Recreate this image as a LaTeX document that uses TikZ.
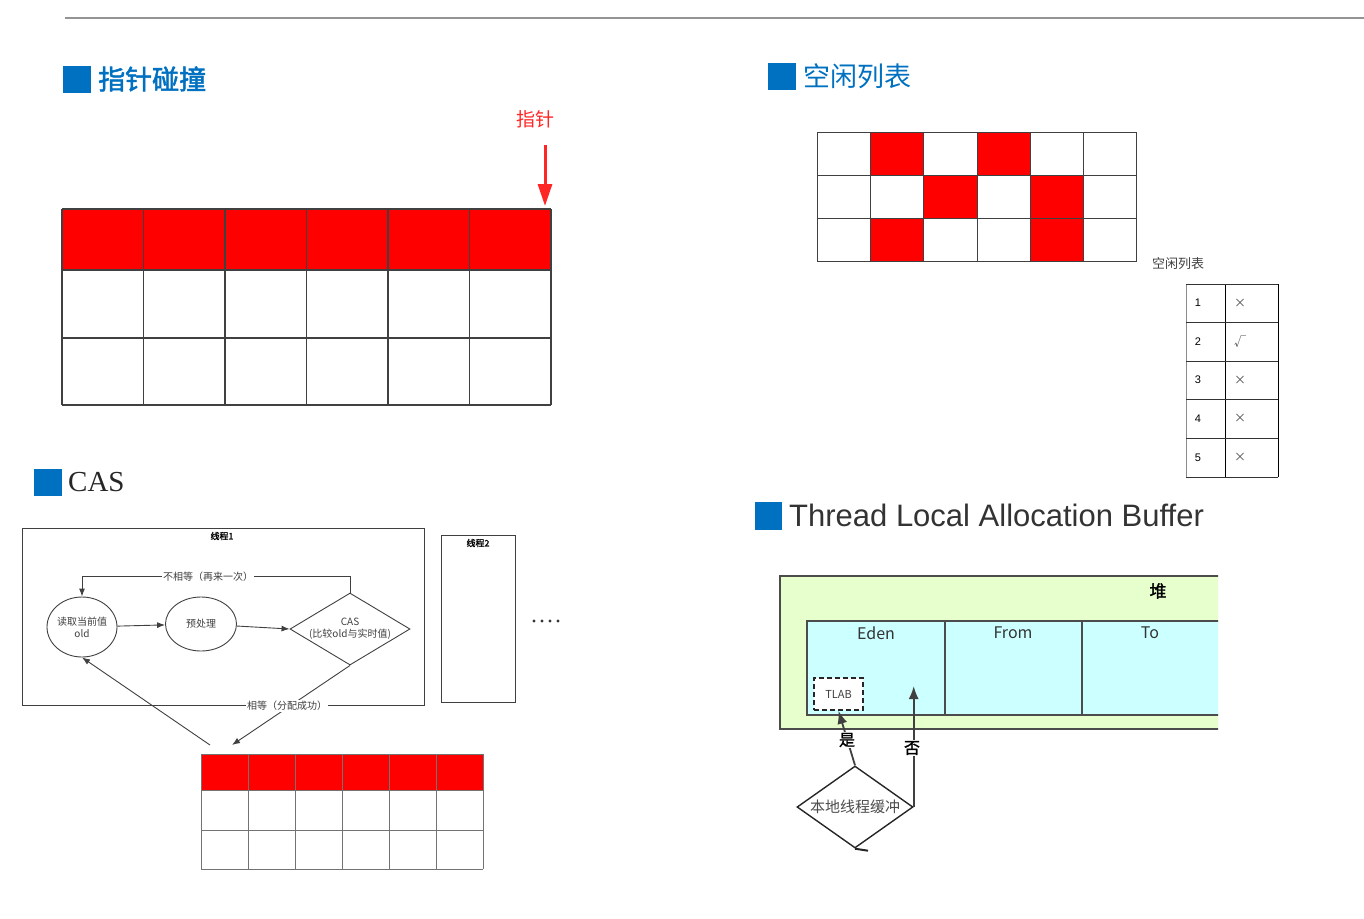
\documentclass[tikz,border=0pt]{standalone}
\usepackage{fontspec}
\setmainfont{Liberation Serif}
\newfontfamily\cjk{Noto Sans CJK SC}
\newfontfamily\cjkb[FakeBold=1.5]{Noto Sans CJK SC}
\newfontfamily\cjkt[FakeBold=2]{Noto Sans CJK SC}
\newfontfamily\sans{Liberation Sans}
\usetikzlibrary{shapes.geometric, arrows.meta}

\definecolor{titleblue}{RGB}{0,112,192}
\definecolor{heapgreen}{RGB}{230,255,204}
\definecolor{edenblue}{RGB}{204,255,255}
\definecolor{linegray}{RGB}{64,64,64}

\tikzset{
  cellline/.style={draw=linegray, line width=1.3},
  title/.style={font=\cjkt\fontsize{27}{30}\selectfont, text=titleblue, anchor=west, inner sep=0},
  flowtext/.style={font=\cjk\fontsize{10}{12}\selectfont, text=black!75, align=center, inner sep=1},
  flow/.style={-{Latex[length=8,width=6]}, line width=0.9, draw=black!75},
  heapline/.style={draw=black!70, line width=1.6},
  bigarrow/.style={-{Latex[length=13,width=10]}, line width=1.8, draw=black!75},
}

\begin{document}
\begin{tikzpicture}[x=1pt, y=-1pt]
    \useasboundingbox (0,0) rectangle (1364,918);

    % Top rule
    \draw[black!42, line width=2] (65,18) -- (1364,18);

    % Section titles
    \fill[titleblue] (63,66) rectangle (91,93);
    \node[title] (bumptitle) at (98,79) {指针碰撞};
    \fill[titleblue] (768,63) rectangle (796,90);
    \node[title, font=\cjk\fontsize{27}{30}\selectfont] (freetitle) at (803,76) {空闲列表};
    \fill[titleblue] (34,469) rectangle (62,496);
    \node[anchor=west, inner sep=0, font=\fontsize{29}{32}\selectfont, text=black!85] (castitle) at (68,482) {CAS};
    \fill[titleblue] (755,502) rectangle (782,530);
    \node[anchor=west, inner sep=0, font=\sans\fontsize{31}{34}\selectfont, text=black!80] (tlabtitle) at (789,515) {Thread Local Allocation Buffer};

    % Pointer bump grid
    \foreach \c in {0,...,5}
      \fill[red] (62+\c*81.5,209) rectangle ++(81.5,61);
    \foreach \c in {0,...,6}
      \draw[cellline] (62+\c*81.5,209) -- (62+\c*81.5,405);
    \foreach \y in {209,270,338,405}
      \draw[cellline] (62,\y) -- (551,\y);

    % Pointer arrow
    \node[font=\cjk\fontsize{19}{21}\selectfont, text=red!85] (ptr) at (535,119) {指针};
    \coordinate (ptrtop) at (545,145);
    \coordinate (ptrend) at (545,206);
    \draw[-{Triangle[length=22,width=14]}, red!85, line width=3] (ptrtop) -- (ptrend);

    % Free list grid
    \foreach \c/\r in {1/0,3/0,2/1,4/1,1/2,4/2}
      \fill[red] (817+\c*53.33,132+\r*43.33) rectangle ++(53.33,43.33);
    \foreach \c in {0,...,6}
      \draw[cellline, line width=1] (817+\c*53.33,132) -- (817+\c*53.33,262);
    \foreach \r in {0,...,3}
      \draw[cellline, line width=1] (817,132+\r*43.33) -- (1137,132+\r*43.33);

    % Free list table
    \node[font=\cjk\fontsize{13}{15}\selectfont, text=black!75] (freelabel) at (1178,264) {空闲列表};
    \foreach \r/\v in {0/×,1/√,2/×,3/×,4/×} {
      \node[font=\sans\fontsize{11}{12}\selectfont] at (1198,303+\r*38.6) {\the\numexpr\r+1\relax};
      \node[font=\cjk\fontsize{12}{13}\selectfont, text=black!70] at (1240,303+\r*38.6) {\v};
    }
    \draw[black!45, line width=1] (1186,284) -- (1186,477);
    \foreach \x in {1225,1278}
      \draw[black, line width=1] (\x,284) -- (\x,477);
    \foreach \r in {0,...,5}
      \draw[black!80, line width=1] (1186,284+\r*38.6) -- (1278,284+\r*38.6);

    % CAS threads
    \draw[black!75, line width=1] (22,528) rectangle (424,705);
    \node[font=\cjkb\fontsize{9}{11}\selectfont] (t1) at (222,536) {线程1};
    \draw[black!75, line width=1] (441,535) rectangle (515,702);
    \node[font=\cjkb\fontsize{9}{11}\selectfont] (t2) at (478,543) {线程2};
    \foreach \x in {534,542,550,558}
      \fill[black!80] (\x,621) circle[radius=1.6];

    % CAS flow
    \node[ellipse, draw=black!75, line width=0.9, minimum width=70, minimum height=60] (read) at (82,627) {};
    \node[flowtext] at (read) {读取当前值\\old};
    \node[ellipse, draw=black!75, line width=0.9, minimum width=71, minimum height=54] (prep) at (201,624) {};
    \node[flowtext] at (prep) {预处理};
    \node[diamond, draw=black!75, line width=0.9, minimum width=120, minimum height=72, inner sep=0] (cas) at (350,629) {};
    \node[flowtext] at (cas) {CAS\\(比较old与实时值)};

    \draw[flow] (read) -- (prep);
    \draw[flow] (prep) -- (cas.west);
    \draw[flow] (cas.north) -- ++(0,-16) -| (read.north);
    \node[flowtext, fill=white] (neq) at (208,577) {不相等（再来一次）};

    \coordinate (memin) at (232,745);
    \coordinate (memout) at (210,745);
    \draw[flow] (cas.south) -- (memin);
    \draw[flow] (memout) -- (read.south);
    \node[flowtext, fill=white] (eq) at (287,706) {相等（分配成功）};

    % CAS memory grid
    \foreach \c in {0,...,5}
      \fill[red] (201+\c*47,754) rectangle ++(47,36);
    \foreach \c in {0,...,6}
      \draw[black!55, line width=1] (201+\c*47,754) -- (201+\c*47,869);
    \foreach \y in {754,790,830,869}
      \draw[black!55, line width=1] (201,\y) -- (483,\y);

    % TLAB heap
    \begin{scope}
      \clip (770,560) rectangle (1218,851);
      \fill[heapgreen] (780,576) rectangle (1230,729);
      \draw[heapline] (1230,576) -- (780,576) -- (780,729) -- (1230,729);
      \node[font=\cjkb\fontsize{17}{19}\selectfont] (heap) at (1158,591) {堆};
      \fill[edenblue] (807,621) rectangle (1230,715);
      \draw[heapline] (1230,621) -- (807,621) -- (807,715) -- (1230,715);
      \foreach \x in {945,1082}
        \draw[heapline] (\x,621) -- (\x,715);
      \node[font=\cjk\fontsize{16}{18}\selectfont, text=black!80] (eden) at (876,633) {Eden};
      \node[font=\cjk\fontsize{16}{18}\selectfont, text=black!80] (from) at (1013,633) {From};
      \node[font=\cjk\fontsize{16}{18}\selectfont, text=black!80] (to) at (1150,633) {To};
      \node[draw=black!85, dashed, dash pattern=on 5 off 3, line width=1.6, fill=white, minimum width=49, minimum height=32, inner sep=0, font=\cjk\fontsize{11}{12}\selectfont, text=black!75] (tlab) at (838.5,694) {TLAB};

      % Allocation decision
      \node[diamond, draw=black!85, line width=1.4, minimum width=116, minimum height=82, inner sep=0] (local) at (855,807) {};
      \node[font=\cjk\fontsize{15}{17}\selectfont, text=black!70, inner sep=0] at (local) {本地线程缓冲};
      \coordinate (edenpt) at (911,686);
      \draw[bigarrow] (local.north) -- (tlab.south);
      \draw[bigarrow] (local.east) -- (local.east |- edenpt);
      \draw[black!85, line width=2] (local.south) -- ++(13,2);
      \node[font=\cjkb\fontsize{16}{18}\selectfont, fill=white, inner sep=1] (yes) at (847,740) {是};
      \node[font=\cjkb\fontsize{16}{18}\selectfont, fill=white, inner sep=1] (no) at (912,748) {否};
    \end{scope}

\end{tikzpicture}
\end{document}
